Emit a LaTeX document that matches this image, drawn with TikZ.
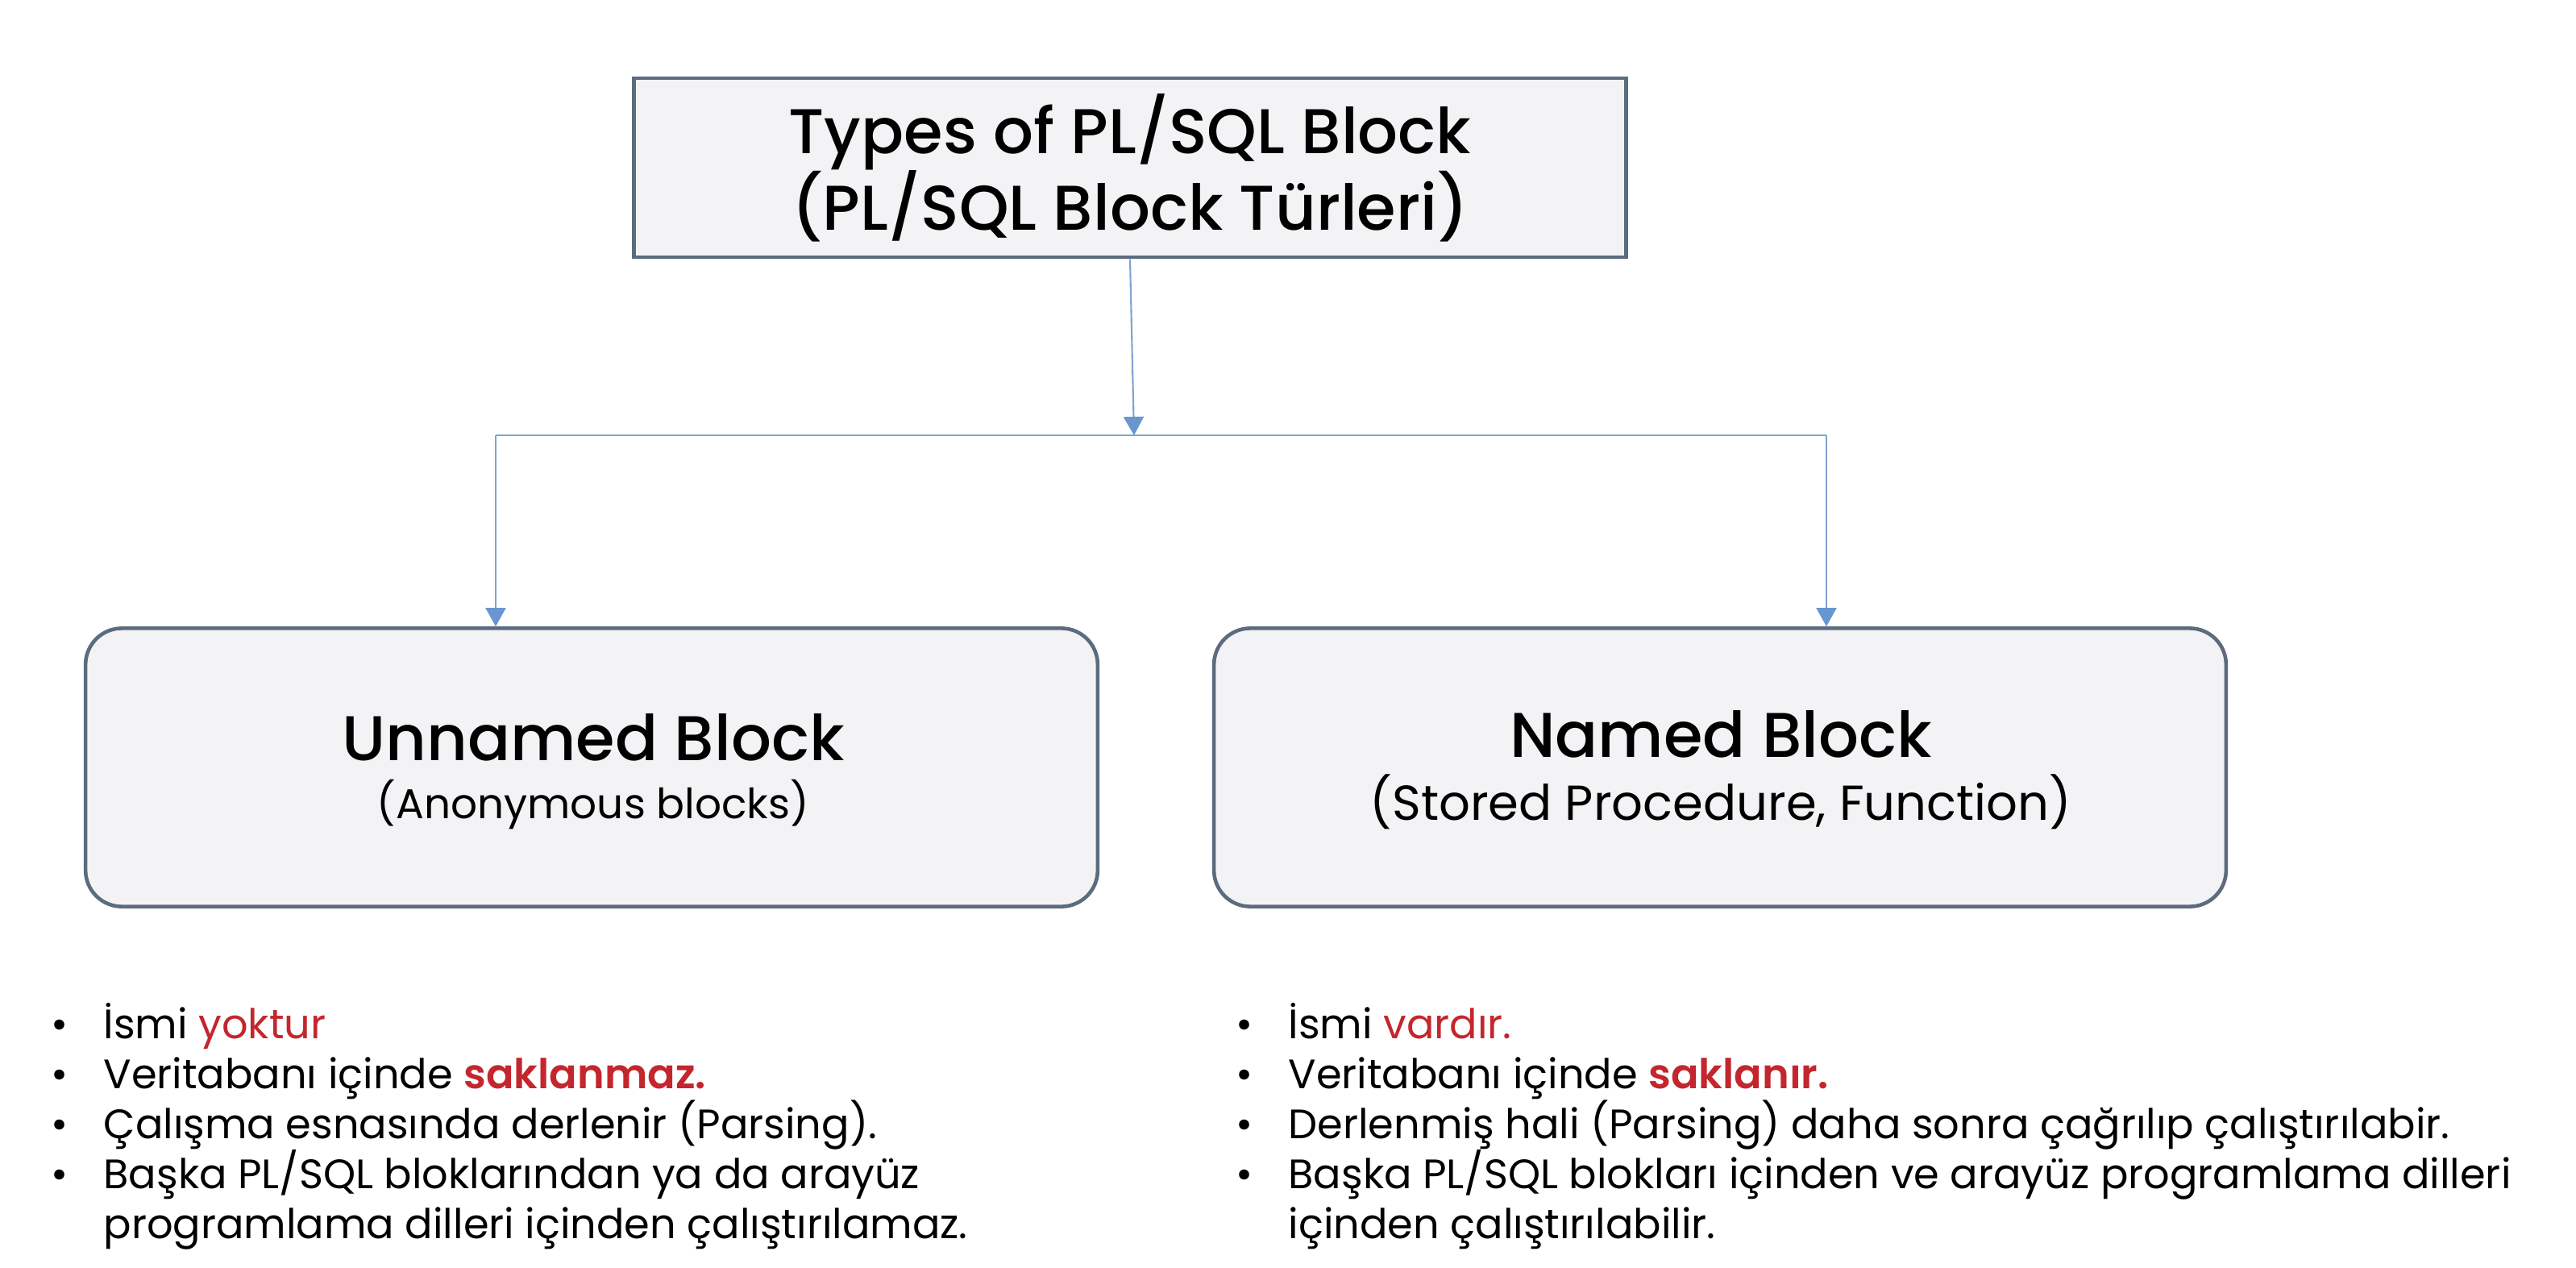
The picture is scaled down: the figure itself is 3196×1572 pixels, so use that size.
\documentclass[tikz,border=0pt]{standalone}
\usepackage{fontspec}
\setmainfont{Poppins}
\newfontfamily\medfont{Poppins Medium}
\newfontfamily\semifont{Poppins SemiBold}
\usetikzlibrary{arrows.meta, positioning, calc}

\definecolor{boxfill}{RGB}{243,243,245}
\definecolor{boxline}{RGB}{92,107,128}
\definecolor{linkblue}{RGB}{128,164,206}
\definecolor{headblue}{RGB}{104,150,208}
\definecolor{hlred}{RGB}{196,38,46}

\newcommand{\hl}[1]{\textcolor{hlred}{#1}}
\newcommand{\hlb}[1]{\textcolor{hlred}{\semifont #1}}
\newcommand{\bul}{\llap{•\hspace{12.5pt}}}

\begin{document}
\begin{tikzpicture}[x=0.01cm, y=-0.01cm,
  >={Triangle[length=0.23cm, width=0.25cm, color=headblue]},
  title node/.style={rectangle, draw=boxline, fill=boxfill, line width=1.3pt,
    minimum width=12.3cm, minimum height=2.22cm, align=center,
    font=\medfont\fontsize{22.3}{27}\selectfont},
  block node/.style={rectangle, rounded corners=0.45cm, draw=boxline, fill=boxfill,
    line width=1.3pt, minimum width=12.55cm, minimum height=3.45cm},
  head/.style={anchor=base, inner sep=0pt, font=\medfont\fontsize{22.3}{27}\selectfont},
  sub/.style={anchor=base, inner sep=0pt},
  item/.style={anchor=base west, inner sep=0pt, font=\fontsize{14.5}{17}\selectfont},
  link/.style={->, draw=linkblue, line width=0.6pt}]
  \useasboundingbox (0,0) rectangle (3196,1572);

  % boxes
  \node[title node] (title) at (1402,208) {Types of PL/SQL Block\\(PL/SQL Block Türleri)};
  \node[block node] (unnamed) at (734,952) {};
  \node[block node] (named) at (2134,952) {};
  \node[head] (unnamedhead) at (736,943) {Unnamed Block};
  \node[sub, font=\fontsize{14.7}{18}\selectfont] (unnamedsub) at (736,1015) {(Anonymous blocks)};
  \node[head] (namedhead) at (2135,939) {Named Block};
  \node[sub, font=\fontsize{17.3}{20}\selectfont] (namedsub) at (2135,1017) {(Stored Procedure, Function)};

  % connectors
  \coordinate (split) at (1407,540);
  \coordinate (lturn) at (615,540);
  \coordinate (rturn) at (2266,540);
  \draw[link] (title.south) -- (split);
  \draw[draw=linkblue, line width=0.6pt] (lturn) -- (rturn);
  \draw[link] (lturn) -- (lturn |- unnamed.north);
  \draw[link] (rturn) -- (rturn |- named.north);

  % unnamed block notes
  \node[item] (l1) at (128,1288) {\bul İsmi \hl{yoktur}};
  \node[item] (l2) at (128,1350) {\bul Veritabanı içinde \hlb{saklanmaz.}};
  \node[item] (l3) at (128,1412) {\bul Çalışma esnasında derlenir (Parsing).};
  \node[item] (l4) at (128,1474) {\bul Başka PL/SQL bloklarından ya da arayüz};
  \node[item] (l5) at (128,1536) {programlama dilleri içinden çalıştırılamaz.};

  % named block notes
  \node[item] (r1) at (1598,1288) {\bul İsmi \hl{vardır.}};
  \node[item] (r2) at (1598,1350) {\bul Veritabanı içinde \hlb{saklanır.}};
  \node[item] (r3) at (1598,1412) {\bul Derlenmiş hali (Parsing) daha sonra çağrılıp çalıştırılabir.};
  \node[item] (r4) at (1598,1474) {\bul Başka PL/SQL blokları içinden ve arayüz programlama dilleri};
  \node[item] (r5) at (1598,1536) {içinden çalıştırılabilir.};
\end{tikzpicture}
\end{document}
